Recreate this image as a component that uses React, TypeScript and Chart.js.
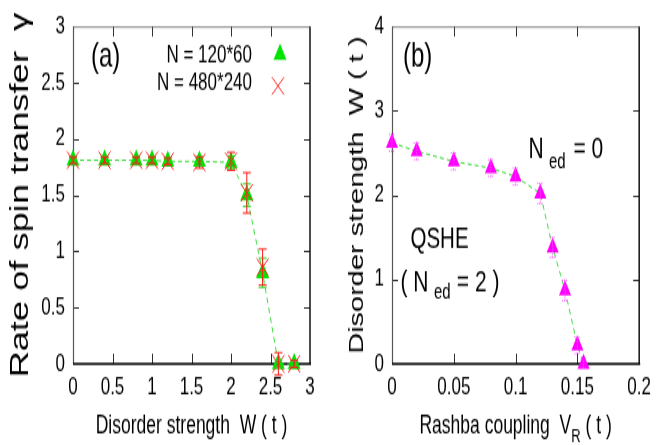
import React, { useEffect, useRef } from 'react';
import { Chart, registerables } from 'chart.js';

Chart.register(...registerables);

// ---------- data ----------
const W_A = [0, 0.4, 0.8, 1.0, 1.2, 1.6, 2.0, 2.2, 2.4, 2.6, 2.8];
const GAMMA_SMALL = [1.81, 1.81, 1.81, 1.81, 1.8, 1.8, 1.79, 1.5, 0.81, 0.0, 0.0];
const ERR_SMALL = [0.03, 0.03, 0.03, 0.03, 0.03, 0.04, 0.06, 0.1, 0.13, 0.03, 0.02];
const GAMMA_LARGE = [1.81, 1.81, 1.81, 1.81, 1.8, 1.79, 1.8, 1.52, 0.86, 0.0, 0.0];
const ERR_LARGE = [0.03, 0.03, 0.03, 0.03, 0.03, 0.05, 0.08, 0.18, 0.16, 0.1, 0.03];
const TICKS_A_X = [0, 0.5, 1, 1.5, 2, 2.5, 3];
const TICKS_A_Y = [0, 0.5, 1, 1.5, 2, 2.5, 3];

const VR_B = [0, 0.02, 0.05, 0.08, 0.1, 0.12, 0.13, 0.14, 0.15, 0.155];
const W_B = [2.62, 2.52, 2.4, 2.32, 2.22, 2.02, 1.38, 0.87, 0.22, 0.0];
const ERR_B = [0.1, 0.1, 0.1, 0.1, 0.1, 0.12, 0.12, 0.12, 0.1, 0.05];
const TICKS_B_X = [0, 0.05, 0.1, 0.15, 0.2];
const TICKS_B_Y = [0, 1, 2, 3, 4];

const LEGEND_A = ['N = 120*60', 'N = 480*240'];

// ---------- style ----------
const FF = '"Liberation Sans", Arial, Helvetica, sans-serif';
const STRETCH = 1.45;
const NAT_H = Math.round(445 / STRETCH);
const GREEN = '#00e400';
const LINE_GREEN = '#3ddc3d';
const RED = '#ff1a1a';
const MAGENTA = '#ff00ff';

const font = (s: number) => `${s}px ${FF}`;

function put(ctx: CanvasRenderingContext2D, t: string, x: number, y: number, size: number, align: CanvasTextAlign = 'left') {
  ctx.font = font(size);
  ctx.textAlign = align;
  ctx.textBaseline = 'alphabetic';
  ctx.fillStyle = '#000';
  ctx.fillText(t, x, y);
}

function runs(ctx: CanvasRenderingContext2D, parts: { t: string; s: number; dy?: number }[], cx: number, y: number) {
  let total = 0;
  const ws = parts.map((p) => {
    ctx.font = font(p.s);
    const w = ctx.measureText(p.t).width;
    total += w;
    return w;
  });
  let x = cx - total / 2;
  ctx.textAlign = 'left';
  ctx.textBaseline = 'alphabetic';
  ctx.fillStyle = '#000';
  parts.forEach((p, i) => {
    ctx.font = font(p.s);
    ctx.fillText(p.t, x, y + (p.dy || 0));
    x += ws[i];
  });
}

function vtitle(ctx: CanvasRenderingContext2D, t: string, xBase: number, cy: number, size: number) {
  ctx.save();
  ctx.translate(xBase, cy);
  ctx.rotate(-Math.PI / 2);
  put(ctx, t, 0, 0, size, 'center');
  ctx.restore();
}

function triangle(ctx: CanvasRenderingContext2D, x: number, y: number, r: number, color: string) {
  ctx.beginPath();
  let a = 0;
  ctx.moveTo(x + Math.sin(a) * r, y - Math.cos(a) * r);
  a += (2 * Math.PI) / 3;
  ctx.lineTo(x + Math.sin(a) * r, y - Math.cos(a) * r);
  a += (2 * Math.PI) / 3;
  ctx.lineTo(x + Math.sin(a) * r, y - Math.cos(a) * r);
  ctx.closePath();
  ctx.fillStyle = color;
  ctx.fill();
}

function cross(ctx: CanvasRenderingContext2D, x: number, y: number, r: number, color: string) {
  const o = Math.cos(Math.PI / 4) * r;
  ctx.beginPath();
  ctx.moveTo(x - o, y - o);
  ctx.lineTo(x + o, y + o);
  ctx.moveTo(x - o, y + o);
  ctx.lineTo(x + o, y - o);
  ctx.strokeStyle = color;
  ctx.lineWidth = 1;
  ctx.stroke();
}

interface ErrSpec {
  xs: number[];
  ys: number[];
  es: number[];
  color: string;
  dash?: number[];
  cap: number;
}

function decor(id: string, errs: ErrSpec[], text: (ctx: CanvasRenderingContext2D, chart: any) => void) {
  return {
    id,
    beforeDatasetsDraw(chart: any) {
      const ctx: CanvasRenderingContext2D = chart.ctx;
      const { left, right, top, bottom } = chart.chartArea;
      const xs = chart.scales.x;
      const ys = chart.scales.y;
      ctx.save();
      ctx.strokeStyle = '#333';
      ctx.lineWidth = 1;
      ctx.beginPath();
      xs.ticks.forEach((t: any) => {
        if (t.value <= xs.min || t.value >= xs.max) return;
        const p = Math.round(xs.getPixelForValue(t.value)) + 0.5;
        ctx.moveTo(p, bottom);
        ctx.lineTo(p, bottom - 7);
        ctx.moveTo(p, top);
        ctx.lineTo(p, top + 7);
      });
      ys.ticks.forEach((t: any) => {
        if (t.value <= ys.min || t.value >= ys.max) return;
        const p = Math.round(ys.getPixelForValue(t.value)) + 0.5;
        ctx.moveTo(left, p);
        ctx.lineTo(left + 6, p);
        ctx.moveTo(right, p);
        ctx.lineTo(right - 6, p);
      });
      ctx.stroke();
      // frame
      ctx.strokeStyle = '#666';
      ctx.lineWidth = 0.8;
      ctx.beginPath();
      ctx.moveTo(left, top + 0.5);
      ctx.lineTo(right, top + 0.5);
      ctx.stroke();
      ctx.strokeStyle = '#555';
      ctx.lineWidth = 1.2;
      ctx.beginPath();
      ctx.moveTo(left + 0.5, top);
      ctx.lineTo(left + 0.5, bottom);
      ctx.stroke();
      ctx.strokeStyle = '#111';
      ctx.lineWidth = 1.5;
      ctx.beginPath();
      ctx.moveTo(right, top);
      ctx.lineTo(right, bottom);
      ctx.stroke();
      ctx.strokeStyle = '#000';
      ctx.lineWidth = 1.6;
      ctx.beginPath();
      ctx.moveTo(left, bottom);
      ctx.lineTo(right + 1, bottom);
      ctx.stroke();
      ctx.restore();
    },
    afterDatasetsDraw(chart: any) {
      const ctx: CanvasRenderingContext2D = chart.ctx;
      const xs = chart.scales.x;
      const ys = chart.scales.y;
      ctx.save();
      errs.forEach((e) => {
        ctx.strokeStyle = e.color;
        ctx.lineWidth = 1;
        ctx.setLineDash(e.dash || []);
        e.xs.forEach((xv, i) => {
          const err = e.es[i];
          if (!err) return;
          const px = xs.getPixelForValue(xv);
          const y1 = ys.getPixelForValue(e.ys[i] - err);
          const y2 = ys.getPixelForValue(e.ys[i] + err);
          ctx.beginPath();
          ctx.moveTo(px, y1);
          ctx.lineTo(px, y2);
          ctx.moveTo(px - e.cap, y1);
          ctx.lineTo(px + e.cap, y1);
          ctx.moveTo(px - e.cap, y2);
          ctx.lineTo(px + e.cap, y2);
          ctx.stroke();
        });
      });
      ctx.restore();
    },
    afterDraw(chart: any) {
      const ctx: CanvasRenderingContext2D = chart.ctx;
      ctx.save();
      text(ctx, chart);
      ctx.restore();
    },
  };
}

function axes(xmin: number, xmax: number, xt: number[], ymin: number, ymax: number, yt: number[], yw: number) {
  const tickFont = { family: FF, size: 17 };
  return {
    x: {
      type: 'linear',
      min: xmin,
      max: xmax,
      afterBuildTicks: (s: any) => {
        s.ticks = xt.map((value) => ({ value }));
      },
      afterFit: (s: any) => {
        s.height = 56;
      },
      ticks: { font: tickFont, color: '#000', padding: 6, autoSkip: false, maxRotation: 0, callback: (v: any) => String(v) },
      grid: { display: false, drawTicks: false },
      border: { display: false },
    },
    y: {
      type: 'linear',
      min: ymin,
      max: ymax,
      afterBuildTicks: (s: any) => {
        s.ticks = yt.map((value) => ({ value }));
      },
      afterFit: (s: any) => {
        s.width = yw;
      },
      ticks: { font: tickFont, color: '#000', padding: 8, autoSkip: false, callback: (v: any) => String(v) },
      grid: { display: false, drawTicks: false },
      border: { display: false },
    },
  };
}

function configA(): any {
  const plugin = decor(
    'decorA',
    [
      { xs: W_A, ys: GAMMA_SMALL, es: ERR_SMALL, color: '#22d822', cap: 4 },
      { xs: W_A, ys: GAMMA_LARGE, es: ERR_LARGE, color: RED, cap: 4 },
    ],
    (ctx, chart) => {
      const { left, right, top, bottom } = chart.chartArea;
      const cx = (left + right) / 2;
      const cy = (top + bottom) / 2;
      put(ctx, '(a)', 91, 45.5, 24);
      put(ctx, LEGEND_A[0], 252, 43.3, 17, 'right');
      put(ctx, LEGEND_A[1], 252, 62.4, 17, 'right');
      triangle(ctx, 280, 37.4, 7.5, GREEN);
      cross(ctx, 278, 59.3, 8.5, RED);
      runs(ctx, [{ t: 'Disorder strength  W ( t )', s: 17.5 }], cx, 298.7);
      vtitle(ctx, 'Rate of spin transfer  \u03b3', 28, cy, 25);
    }
  );
  return {
    type: 'scatter',
    data: {
      datasets: [
        {
          label: LEGEND_A[1],
          data: W_A.map((x, i) => ({ x, y: GAMMA_LARGE[i] })),
          showLine: false,
          pointStyle: 'crossRot',
          pointRadius: 8.5,
          pointBorderColor: RED,
          pointBackgroundColor: 'rgba(0,0,0,0)',
          pointBorderWidth: 1,
          clip: false,
        },
        {
          label: LEGEND_A[0],
          data: W_A.map((x, i) => ({ x, y: GAMMA_SMALL[i] })),
          showLine: true,
          borderColor: LINE_GREEN,
          borderWidth: 1,
          borderDash: [4, 3],
          pointStyle: 'triangle',
          pointRadius: 7.5,
          pointBackgroundColor: GREEN,
          pointBorderColor: GREEN,
          pointBorderWidth: 0,
          clip: false,
        },
      ],
    },
    options: {
      responsive: false,
      animation: false,
      devicePixelRatio: 1,
      events: [],
      layout: { padding: { top: 13, right: 20, left: 0, bottom: 0 } },
      plugins: { legend: { display: false }, tooltip: { enabled: false } },
      scales: axes(0, 3, TICKS_A_X, 0, 3, TICKS_A_Y, 73),
    },
    plugins: [plugin],
  };
}

function configB(): any {
  const plugin = decor(
    'decorB',
    [{ xs: VR_B, ys: W_B, es: ERR_B, color: '#ff55ff', dash: [1, 1], cap: 3 }],
    (ctx, chart) => {
      const { left, right, top, bottom } = chart.chartArea;
      const cx = (left + right) / 2;
      const cy = (top + bottom) / 2;
      put(ctx, '(b)', 73, 45.5, 24);
      put(ctx, 'N', 198.5, 108.9, 21);
      put(ctx, 'ed', 219, 115.7, 15);
      put(ctx, '= 0', 243.5, 108.9, 21);
      put(ctx, 'QSHE', 80.5, 170.7, 20.5);
      put(ctx, '( N', 70.5, 201.3, 21);
      put(ctx, 'ed', 104, 206.4, 15);
      put(ctx, '= 2 )', 126.8, 201.3, 21);
      runs(
        ctx,
        [
          { t: 'Rashba coupling  V', s: 17.5 },
          { t: 'R', s: 13, dy: 6 },
          { t: ' ( t )', s: 17.5 },
        ],
        cx,
        298.7
      );
      vtitle(ctx, 'Disorder strength  W ( t )', 33, cy, 20);
    }
  );
  return {
    type: 'scatter',
    data: {
      datasets: [
        {
          label: 'critical disorder',
          data: VR_B.map((x, i) => ({ x, y: W_B[i] })),
          showLine: true,
          borderColor: LINE_GREEN,
          borderWidth: 1,
          borderDash: [4, 3],
          pointStyle: 'triangle',
          pointRadius: 7,
          pointBackgroundColor: MAGENTA,
          pointBorderColor: MAGENTA,
          pointBorderWidth: 0,
          clip: false,
        },
      ],
    },
    options: {
      responsive: false,
      animation: false,
      devicePixelRatio: 1,
      events: [],
      layout: { padding: { top: 13, right: 14, left: 0, bottom: 0 } },
      plugins: { legend: { display: false }, tooltip: { enabled: false } },
      scales: axes(0, 0.2, TICKS_B_X, 0, 4, TICKS_B_Y, 62),
    },
    plugins: [plugin],
  };
}

function Panel({ width, make }: { width: number; make: () => any }) {
  const ref = useRef<HTMLCanvasElement>(null);
  useEffect(() => {
    const chart = new Chart(ref.current as HTMLCanvasElement, make());
    return () => chart.destroy();
  }, []);
  return (
    <canvas
      ref={ref}
      width={width}
      height={NAT_H}
      style={{ width: `${width}px`, height: '445px', display: 'block' }}
    />
  );
}

export default function App() {
  return (
    <div
      style={{
        position: 'absolute',
        left: 0,
        top: 0,
        width: 657,
        height: 445,
        display: 'flex',
        background: '#fff',
        overflow: 'hidden',
      }}
    >
      <Panel width={330} make={configA} />
      <Panel width={327} make={configB} />
    </div>
  );
}
